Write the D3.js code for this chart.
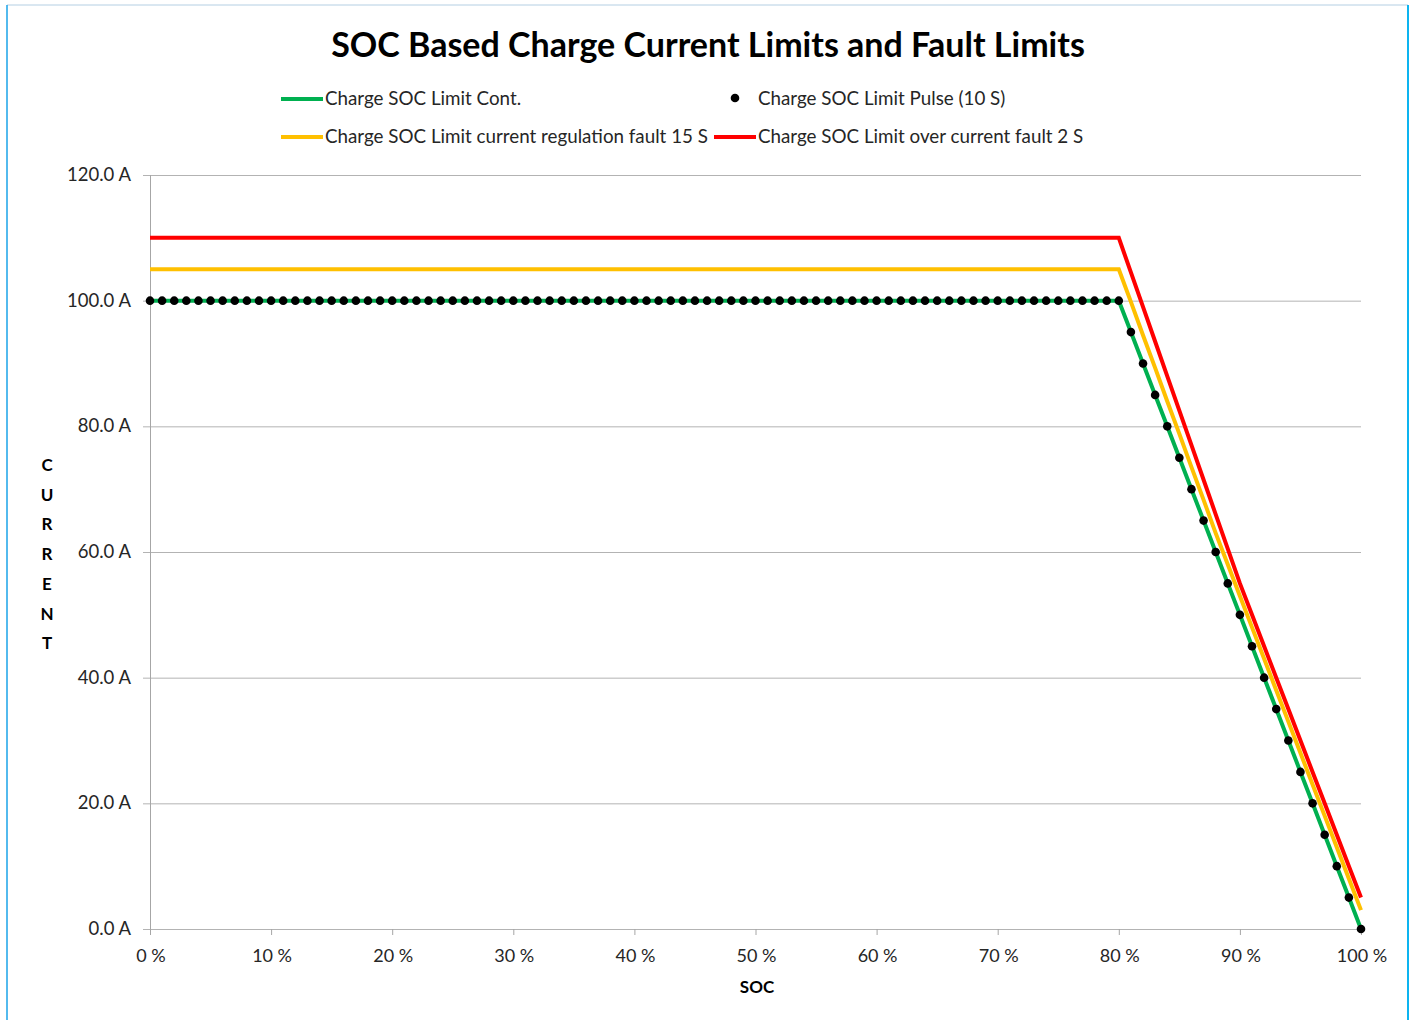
<!DOCTYPE html>
<html>
<head>
<meta charset="utf-8">
<script src="https://cdn.jsdelivr.net/npm/d3@7"></script>
<style>
  body { margin: 0; background: #fff; }
  svg { display: block; font-family: Lato, "Open Sans", sans-serif; }
</style>
</head>
<body>
<svg width="1415" height="1020"></svg>
<script>
// SOC in percent, current in A
var socSlope = [80, 81, 82, 83, 84, 85, 86, 87, 88, 89, 90, 91, 92, 93, 94, 95, 96, 97, 98, 99, 100];
var contSlope = [100, 95, 90, 85, 80, 75, 70, 65, 60, 55, 50, 45, 40, 35, 30, 25, 20, 15, 10, 5, 0];
var regFaultSlope = [105, 99.8, 94.5, 89.3, 84, 78.8, 73.5, 68.3, 63, 58, 53, 48, 43, 38, 33, 28, 23, 18, 13, 8, 3];
var overFaultSlope = [110, 104.5, 99, 93.5, 88, 82.5, 77, 71.5, 66, 60.5, 55, 50, 45, 40, 35, 30, 25, 20, 15, 10, 5];
var pulseSoc = d3.range(0, 101);   // a dot at every 1 % SOC
var pulseValues = [
  100, 100, 100, 100, 100, 100, 100, 100, 100, 100,
  100, 100, 100, 100, 100, 100, 100, 100, 100, 100,
  100, 100, 100, 100, 100, 100, 100, 100, 100, 100,
  100, 100, 100, 100, 100, 100, 100, 100, 100, 100,
  100, 100, 100, 100, 100, 100, 100, 100, 100, 100,
  100, 100, 100, 100, 100, 100, 100, 100, 100, 100,
  100, 100, 100, 100, 100, 100, 100, 100, 100, 100,
  100, 100, 100, 100, 100, 100, 100, 100, 100, 100,
  100, 95, 90, 85, 80, 75, 70, 65, 60, 55,
  50, 45, 40, 35, 30, 25, 20, 15, 10, 5, 0];
var yTicks = [0, 20, 40, 60, 80, 100, 120];
var xTicks = [0, 10, 20, 30, 40, 50, 60, 70, 80, 90, 100];
var seriesNames = ["Charge SOC Limit Cont.", "Charge SOC Limit Pulse (10 S)",
  "Charge SOC Limit current regulation fault 15 S", "Charge SOC Limit over current fault 2 S"];

var svg = d3.select("svg");

var x = d3.scaleLinear().domain([0, 100]).range([150, 1361]);
var y = d3.scaleLinear().domain([0, 120]).range([929, 175]);

function withFlat(level, values) {
  // flat part from 0 % to 80 %, then the listed slope points
  var pts = [[0, level]];
  socSlope.forEach(function(s, i) { pts.push([s, values[i]]); });
  return pts;
}

// chart border
svg.append("line").attr("x1", 7).attr("y1", 5).attr("x2", 1408).attr("y2", 5)
  .attr("stroke", "#b4cfe3").attr("stroke-width", 1);
svg.append("line").attr("x1", 7).attr("y1", 5).attr("x2", 7).attr("y2", 1020)
  .attr("stroke", "#1aa3e8").attr("stroke-width", 1.5);
svg.append("line").attr("x1", 1408).attr("y1", 5).attr("x2", 1408).attr("y2", 1020)
  .attr("stroke", "#0db4f0").attr("stroke-width", 2);

// gridlines
svg.append("g")
  .selectAll("line")
  .data(yTicks)
  .enter().append("line")
    .attr("x1", x(0) - 7).attr("x2", x(100))
    .attr("y1", function(d) { return y(d) + 0.5; })
    .attr("y2", function(d) { return y(d) + 0.5; })
    .attr("stroke", "#b3b3b3").attr("stroke-width", 1);

// axes
svg.append("line").attr("x1", x(0) + 0.5).attr("x2", x(0) + 0.5)
  .attr("y1", y(120)).attr("y2", y(0) + 6)
  .attr("stroke", "#a6a6a6");
svg.append("g")
  .selectAll("line")
  .data(xTicks.slice(1))
  .enter().append("line")
    .attr("x1", function(d) { return x(d) + 0.5; })
    .attr("x2", function(d) { return x(d) + 0.5; })
    .attr("y1", y(0)).attr("y2", y(0) + 6)
    .attr("stroke", "#a6a6a6");

svg.append("g")
  .selectAll("text")
  .data(yTicks)
  .enter().append("text")
    .attr("x", 131)
    .attr("y", function(d) { return y(d) + 6; })
    .attr("text-anchor", "end")
    .attr("font-size", "18.5px")
    .attr("fill", "#262626")
    .text(function(d) { return d.toFixed(1) + " A"; });

svg.append("g")
  .selectAll("text")
  .data(xTicks)
  .enter().append("text")
    .attr("x", function(d) { return x(d) + 1; })
    .attr("y", 962)
    .attr("text-anchor", "middle")
    .attr("font-size", "18px")
    .attr("fill", "#262626")
    .text(function(d) { return d + " %"; });

// axis titles
svg.append("text")
  .attr("x", 757).attr("y", 993)
  .attr("text-anchor", "middle")
  .attr("font-size", "17px").attr("font-weight", "bold")
  .attr("fill", "#000")
  .text("SOC");

svg.append("g")
  .selectAll("text")
  .data("CURRENT".split(""))
  .enter().append("text")
    .attr("x", 47)
    .attr("y", function(d, i) { return 471 + i * 29.7; })
    .attr("text-anchor", "middle")
    .attr("font-size", "17px").attr("font-weight", "bold")
    .attr("fill", "#000")
    .text(function(d) { return d; });

// title
svg.append("text")
  .attr("x", 708).attr("y", 57)
  .attr("text-anchor", "middle")
  .attr("font-size", "34px").attr("font-weight", "bold")
  .attr("fill", "#000")
  .text("SOC Based Charge Current Limits and Fault Limits");

// series
var line = d3.line()
  .x(function(d) { return x(d[0]); })
  .y(function(d) { return y(d[1]); });

svg.append("path")
  .datum(withFlat(100, contSlope))
  .attr("d", line)
  .attr("fill", "none").attr("stroke", "#00b050").attr("stroke-width", 4);

svg.append("path")
  .datum(withFlat(105, regFaultSlope))
  .attr("d", line)
  .attr("fill", "none").attr("stroke", "#ffc000").attr("stroke-width", 4);

svg.append("path")
  .datum(withFlat(110, overFaultSlope))
  .attr("d", line)
  .attr("fill", "none").attr("stroke", "#ff0000").attr("stroke-width", 4);

svg.append("g")
  .selectAll("circle")
  .data(pulseSoc)
  .enter().append("circle")
    .attr("cx", function(d) { return x(d); })
    .attr("cy", function(d, i) { return y(pulseValues[i]); })
    .attr("r", 4.3)
    .attr("fill", "#000");

// legend
var legendItems = [
  { name: seriesNames[0], x: 281, y: 99, kind: "line", color: "#00b050" },
  { name: seriesNames[1], x: 714, y: 99, kind: "dot", color: "#000" },
  { name: seriesNames[2], x: 281, y: 137, kind: "line", color: "#ffc000" },
  { name: seriesNames[3], x: 714, y: 137, kind: "line", color: "#ff0000" }
];

var legend = svg.append("g")
  .selectAll("g")
  .data(legendItems)
  .enter().append("g")
    .attr("transform", function(d) { return "translate(" + d.x + "," + d.y + ")"; });

legend.filter(function(d) { return d.kind === "line"; })
  .append("line")
    .attr("x1", 0).attr("x2", 42).attr("y1", 0).attr("y2", 0)
    .attr("stroke", function(d) { return d.color; }).attr("stroke-width", 4);

legend.filter(function(d) { return d.kind === "dot"; })
  .append("circle")
    .attr("cx", 21).attr("cy", -1).attr("r", 4.3)
    .attr("fill", function(d) { return d.color; });

legend.append("text")
  .attr("x", 44).attr("y", 6)
  .attr("font-size", "18.8px")
  .attr("fill", "#262626")
  .text(function(d) { return d.name; });
</script>
</body>
</html>
